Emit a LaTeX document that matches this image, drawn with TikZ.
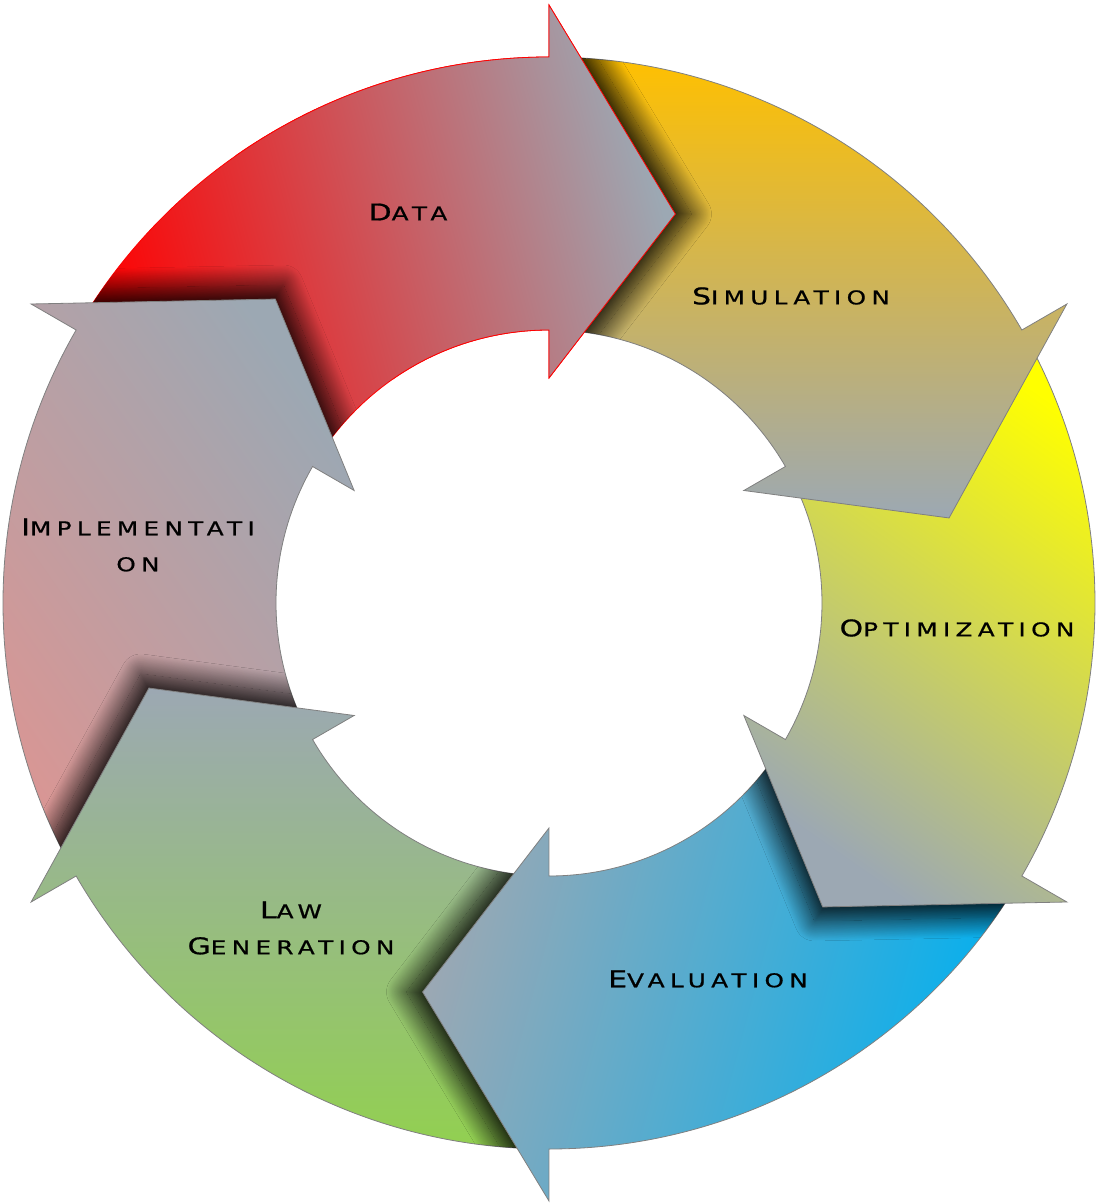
\documentclass[tikz,border=0pt]{standalone}
\usepackage{fontspec}
\usetikzlibrary{shadows.blur}
\newfontfamily\stagefont[LetterSpace=28,FakeStretch=1.3,FakeBold=0.8]{DejaVu Sans}
\newcommand{\stagecaps}[2]{{\fontsize{23}{36}\selectfont #1}{\fontsize{19}{36}\selectfont #2}}
\definecolor{stagegrey}{HTML}{9CA8B3}
\tikzset{
  ringseg/.style={insert path={({#1+60}:546) arc[start angle={#1+60}, end angle=#1, radius=546] -- (#1:598) -- ({#1-18}:409) -- (#1:225) -- (#1:273) arc[start angle=#1, end angle={#1+60}, radius=273] -- cycle}},
  headseg/.style={insert path={(#1:598) -- ({#1-18}:409) -- (#1:225) -- cycle}},
  ringedge/.style={draw=gray, line width=0.8pt},
  headshadow/.style n args={3}{blur shadow={shadow xshift=#1, shadow yshift=#2, shadow blur radius=20pt, shadow blur steps=30, shadow opacity=#3}},
  stage/.style={font={\stagefont\fontsize{19}{36}\selectfont}, text=black, align=center}
}
\begin{document}
\begin{tikzpicture}[x=1pt, y=1pt]
\useasboundingbox (-549, 603) rectangle (548, -600);
\definecolor{col}{HTML}{FF0000}
\shade[ringedge, draw=red, top color=col, bottom color=stagegrey, shading angle=105, ringseg=90];
\definecolor{col}{HTML}{D99694}
\begin{scope}
\clip[ringseg=90];
\path[headshadow={8pt}{14pt}{90}, headseg=150];
\end{scope}
\shade[ringedge, top color=col, bottom color=stagegrey, shading angle=125, ringseg=150];
\definecolor{col}{HTML}{92D050}
\begin{scope}
\clip[ringseg=150];
\path[headshadow={-8pt}{14pt}{90}, headseg=-150];
\end{scope}
\shade[ringedge, top color=col, bottom color=stagegrey, shading angle=180, ringseg=-150];
\definecolor{col}{HTML}{00B0F0}
\begin{scope}
\clip[ringseg=-150];
\path[headshadow={-16pt}{0pt}{90}, headseg=-90];
\end{scope}
\shade[ringedge, top color=col, bottom color=stagegrey, shading angle=-105, ringseg=-90];
\definecolor{col}{HTML}{FFFF00}
\begin{scope}
\clip[ringseg=-90];
\path[headshadow={-8pt}{-14pt}{90}, headseg=-30];
\end{scope}
\shade[ringedge, top color=col, bottom color=stagegrey, shading angle=-35, ringseg=-30];
\definecolor{col}{HTML}{FFC000}
\shade[ringedge, top color=col, bottom color=stagegrey, shading angle=0, ringseg=30];
\definecolor{col}{HTML}{FF0000}
\begin{scope}
\clip (0,0) -- (125:800) -- (100:800) -- (60:800) -- (20:800) -- cycle;
\begin{scope}
\clip[ringseg=30];
\path[headshadow={16pt}{0pt}{90}, headseg=90];
\end{scope}
\shade[ringedge, draw=red, top color=col, bottom color=stagegrey, shading angle=105, ringseg=90];
\end{scope}
\node[stage] (data) at (-141, 391) {\stagecaps{D}{ATA}};
\node[stage] (simulation) at (242, 307) {\stagecaps{S}{IMULATION}};
\node[stage] (optimization) at (408, -25) {\stagecaps{O}{PTIMIZATION}};
\node[stage] (evaluation) at (159, -376) {\stagecaps{E}{VALUATION}};
\node[stage] (lawgen) at (-258, -325) {\stagecaps{L}{AW}\\\stagecaps{G}{ENERATION}};
\node[stage] (implementation) at (-411, 58) {\stagecaps{I}{MPLEMENTATI}\\ON};
\end{tikzpicture}
\end{document}
